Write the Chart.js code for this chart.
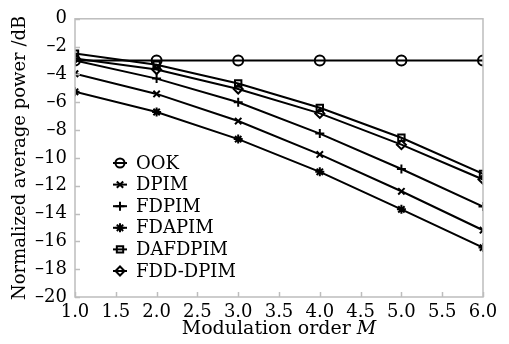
<!DOCTYPE html>
<html>
<head>
<meta charset="utf-8">
<script src="https://cdn.jsdelivr.net/npm/chart.js@4"></script>
<style>
  html, body { margin: 0; padding: 0; background: #fff; }
  #wrap { width: 509px; height: 344px; }
</style>
</head>
<body>
<div id="wrap"><canvas id="chart"></canvas></div>
<script>
// modulation order M
const orders = [1, 2, 3, 4, 5, 6];
const xTicks = [1.0, 1.5, 2.0, 2.5, 3.0, 3.5, 4.0, 4.5, 5.0, 5.5, 6.0];
const yTicks = [0, -2, -4, -6, -8, -10, -12, -14, -16, -18, -20];

// normalized average power (dB)
const ook = [-3.0, -3.0, -3.0, -3.0, -3.0, -3.0];
const dpim = [-3.95, -5.4, -7.35, -9.75, -12.4, -15.2];
const fdpim = [-3.0, -4.3, -6.0, -8.25, -10.8, -13.5];
const fdapim = [-5.25, -6.7, -8.65, -11.0, -13.7, -16.45];
const dafdpim = [-2.5, -3.3, -4.65, -6.4, -8.55, -11.15];
const fdddpim = [-2.85, -3.65, -5.05, -6.8, -9.05, -11.55];

const names = ['OOK', 'DPIM', 'FDPIM', 'FDAPIM', 'DAFDPIM', 'FDD-DPIM'];
const styles = ['circle', 'crossRot', 'cross', 'star', 'rect', 'rectRot'];
const values = [ook, dpim, fdpim, fdapim, dafdpim, fdddpim];

const FONT = '"DejaVu Serif", "Liberation Serif", serif';

const datasets = names.map((n, i) => ({
  label: n,
  data: orders.map((m, j) => ({ x: m, y: values[i][j] })),
  borderColor: '#000',
  borderWidth: 2,
  pointStyle: styles[i],
  pointRadius: i === 0 ? 5 : 4.5,
  pointBorderWidth: 2,
  pointBackgroundColor: 'rgba(0,0,0,0)',
  pointBorderColor: '#000',
  tension: 0,
}));

// frame, inward ticks, x title with italic M, legend inside the plot
const extras = {
  id: 'extras',
  afterDraw(chart) {
    const { ctx, chartArea: a, scales } = chart;
    ctx.save();
    ctx.strokeStyle = '#bdbdbd';
    ctx.lineWidth = 1.5;
    ctx.strokeRect(a.left, a.top, a.right - a.left, a.bottom - a.top);
    xTicks.forEach(v => {
      const px = Math.round(scales.x.getPixelForValue(v)) + 0.5;
      ctx.beginPath();
      ctx.moveTo(px, a.bottom);
      ctx.lineTo(px, a.bottom - 5);
      ctx.stroke();
    });
    yTicks.forEach(v => {
      const py = Math.round(scales.y.getPixelForValue(v)) + 0.5;
      ctx.beginPath();
      ctx.moveTo(a.left, py);
      ctx.lineTo(a.left + 5, py);
      ctx.stroke();
    });
    ctx.restore();

    // x axis title
    ctx.save();
    ctx.fillStyle = '#000';
    ctx.textBaseline = 'alphabetic';
    const t1 = 'Modulation order ';
    ctx.font = '19px ' + FONT;
    const w1 = ctx.measureText(t1).width;
    ctx.font = 'italic 19px ' + FONT;
    const w2 = ctx.measureText('M').width;
    const tx = (a.left + a.right) / 2 - (w1 + w2) / 2;
    const ty = 334;
    ctx.font = '19px ' + FONT;
    ctx.fillText(t1, tx, ty);
    ctx.font = 'italic 19px ' + FONT;
    ctx.fillText('M', tx + w1, ty);
    ctx.restore();

    // legend
    ctx.save();
    const x0 = 120, y0 = 163, gap = 21.6;
    ctx.textBaseline = 'middle';
    chart.data.datasets.forEach((d, i) => {
      const y = y0 + i * gap;
      ctx.strokeStyle = '#000';
      ctx.fillStyle = 'rgba(0,0,0,0)';
      ctx.lineWidth = 2;
      ctx.beginPath();
      ctx.moveTo(x0 - 7, y);
      ctx.lineTo(x0 + 7, y);
      ctx.stroke();
      Chart.helpers.drawPoint(ctx, {
        pointStyle: d.pointStyle, radius: 4.5, borderWidth: 2, rotation: 0
      }, x0, y);
      ctx.fillStyle = '#000';
      ctx.font = '18px ' + FONT;
      ctx.fillText(d.label, x0 + 16, y + 1);
    });
    ctx.restore();
  }
};

new Chart(document.getElementById('chart'), {
  type: 'line',
  data: { datasets },
  options: {
    responsive: true,
    maintainAspectRatio: false,
    animation: false,
    layout: { padding: { top: 4, right: 26, left: 10, bottom: 0 } },
    plugins: { legend: { display: false }, tooltip: { enabled: false } },
    scales: {
      x: {
        type: 'linear',
        min: 1, max: 6,
        grid: { display: false, drawTicks: false },
        border: { display: false },
        afterBuildTicks: s => { s.ticks = xTicks.map(v => ({ value: v })); },
        afterFit: s => { s.height = 47; },
        ticks: {
          color: '#000', padding: 5,
          font: { family: FONT, size: 18 },
          maxRotation: 0,
          callback: v => Number(v).toFixed(1),
        },
      },
      y: {
        min: -20, max: 0,
        grid: { display: false, drawTicks: false },
        border: { display: false },
        afterBuildTicks: s => { s.ticks = yTicks.map(v => ({ value: v })); },
        afterFit: s => { s.width = 65; },
        ticks: {
          color: '#000', padding: 8,
          font: { family: FONT, size: 18 },
          callback: v => String(v).replace('-', '\u2013'),
        },
        title: {
          display: true, color: '#000', padding: 0,
          font: { family: FONT, size: 18 },
          text: 'Normalized average power /dB',
        },
      },
    },
  },
  plugins: [extras],
});
</script>
</body>
</html>
